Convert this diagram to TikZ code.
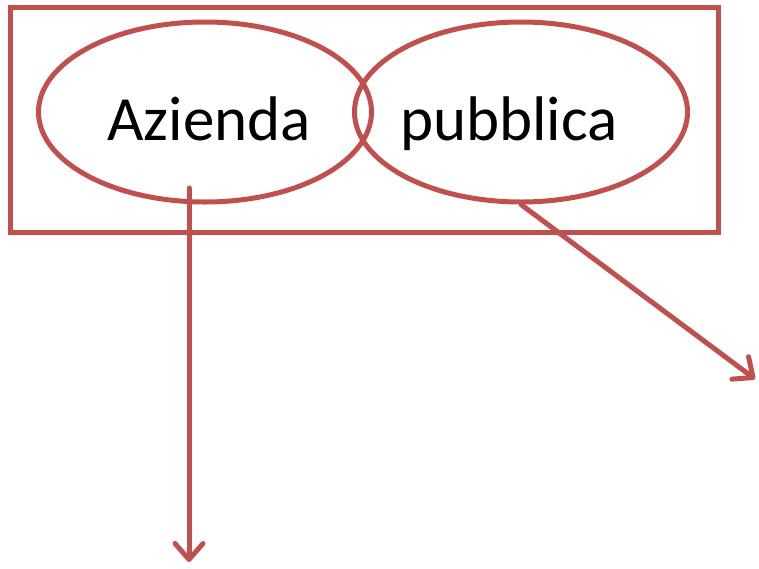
\documentclass[tikz,border=0pt]{standalone}
\usepackage{fontspec}
\setmainfont{Carlito}
\usetikzlibrary{arrows.meta,shapes.geometric}
\definecolor{accred}{HTML}{C0504D}
\tikzset{
  set/.style={draw=accred, line width=5pt, ellipse, minimum width=333pt, minimum height=180pt, inner sep=0pt},
  word/.style={font=\fontsize{63}{63}\selectfont, inner sep=0pt, anchor=base},
  arr/.style={draw=accred, line width=5pt, line cap=round, -{Straight Barb[length=16pt, width=28pt, line cap=round, line join=round]}},
}
\begin{document}
\begin{tikzpicture}[x=1pt, y=-1pt]
  \useasboundingbox (0,0) rectangle (759,568);

  \draw[draw=accred, line width=5pt] (10,7) rectangle (718,232);

  \node[set] (azi) at (205,112) {};
  \node[set] (pub) at (521,112) {};
  \node[word] (lazi) at (209,140) {Azienda};
  \node[word] (lpub) at (509,140) {pubblica};

  % frecce
  \coordinate (s1) at (189,188);
  \coordinate (e1) at (189,562);
  \coordinate (e2) at (755,379);
  \draw[arr] (s1) -- (e1);
  \draw[arr] (pub.south) -- (e2);
\end{tikzpicture}
\end{document}
